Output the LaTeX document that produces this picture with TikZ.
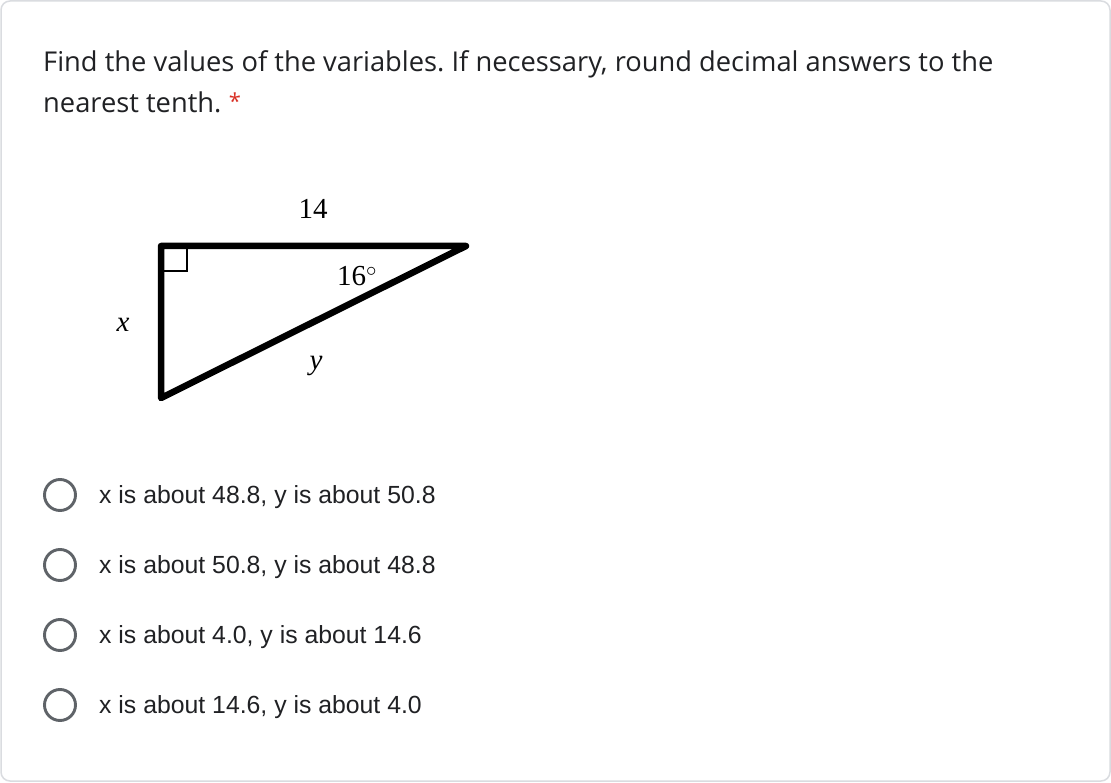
\documentclass[tikz,border=0pt]{standalone}
\usepackage{fontspec}
\setmainfont{Open Sans}
\newfontfamily\optfont{Liberation Sans}
\newfontfamily\figfont{Liberation Serif}
\usetikzlibrary{calc}
\definecolor{cardline}{RGB}{218,220,224}
\definecolor{inktext}{RGB}{32,33,36}
\definecolor{radiogray}{RGB}{95,99,104}
\definecolor{reqred}{RGB}{217,48,37}

\begin{document}
\frenchspacing
\begin{tikzpicture}[x=1pt,y=-1pt,
  figlabel/.style={font=\figfont\fontsize{29}{29}\selectfont,inner sep=0pt},
  optlabel/.style={font=\optfont\fontsize{24.8}{28}\selectfont,text=inktext,anchor=base west,inner sep=0pt}]
\useasboundingbox[fill=white] (0,0) rectangle (1111,783);

% card
\draw[cardline,line width=1.5pt,rounded corners=9pt] (1,1) rectangle (1110,781);

% question
\node[anchor=base west,inner sep=0pt,text=inktext,font=\fontsize{27.3}{32}\selectfont] (q1) at (43,72)
  {Find the values of the variables. If necessary, round decimal answers to the};
\node[anchor=base west,inner sep=0pt,text=inktext,font=\fontsize{27.3}{32}\selectfont] (q2) at (43,113)
  {nearest tenth.};
\node[anchor=base west,inner sep=0pt,text=reqred,font=\fontsize{22}{26}\selectfont] (req) at ($(q2.base east)+(7,-3)$) {*};

% triangle
\coordinate (A) at (161,246);
\coordinate (B) at (466,246);
\coordinate (C) at (161,398);
\draw[line width=6.5pt,line join=round,line cap=round] (A) -- (B) -- (C) -- cycle;
\draw[line width=2pt] ($(A)+(0,25)$) -| ($(A)+(26,0)$);

\node[figlabel] (side) at (313,209) {14};
\node[figlabel] (ang) at (357,276) {16$^{\circ}$};
\node[figlabel,font=\figfont\itshape\fontsize{29}{29}\selectfont] (xl) at (123,325) {x};
\node[figlabel,font=\figfont\itshape\fontsize{29}{29}\selectfont] (yl) at (316,366) {y};

% choices
\foreach \y/\t [count=\i] in {495/{x is about 48.8, y is about 50.8},
  565/{x is about 50.8, y is about 48.8},
  635/{x is about 4.0, y is about 14.6},
  705/{x is about 14.6, y is about 4.0}}
{
\node[draw=radiogray,line width=2.9pt,circle,minimum size=31pt,inner sep=0pt] (r\i) at (60,\y) {};
\node[optlabel] (o\i) at (99,\y+8) {\t};
}

\end{tikzpicture}
\end{document}
